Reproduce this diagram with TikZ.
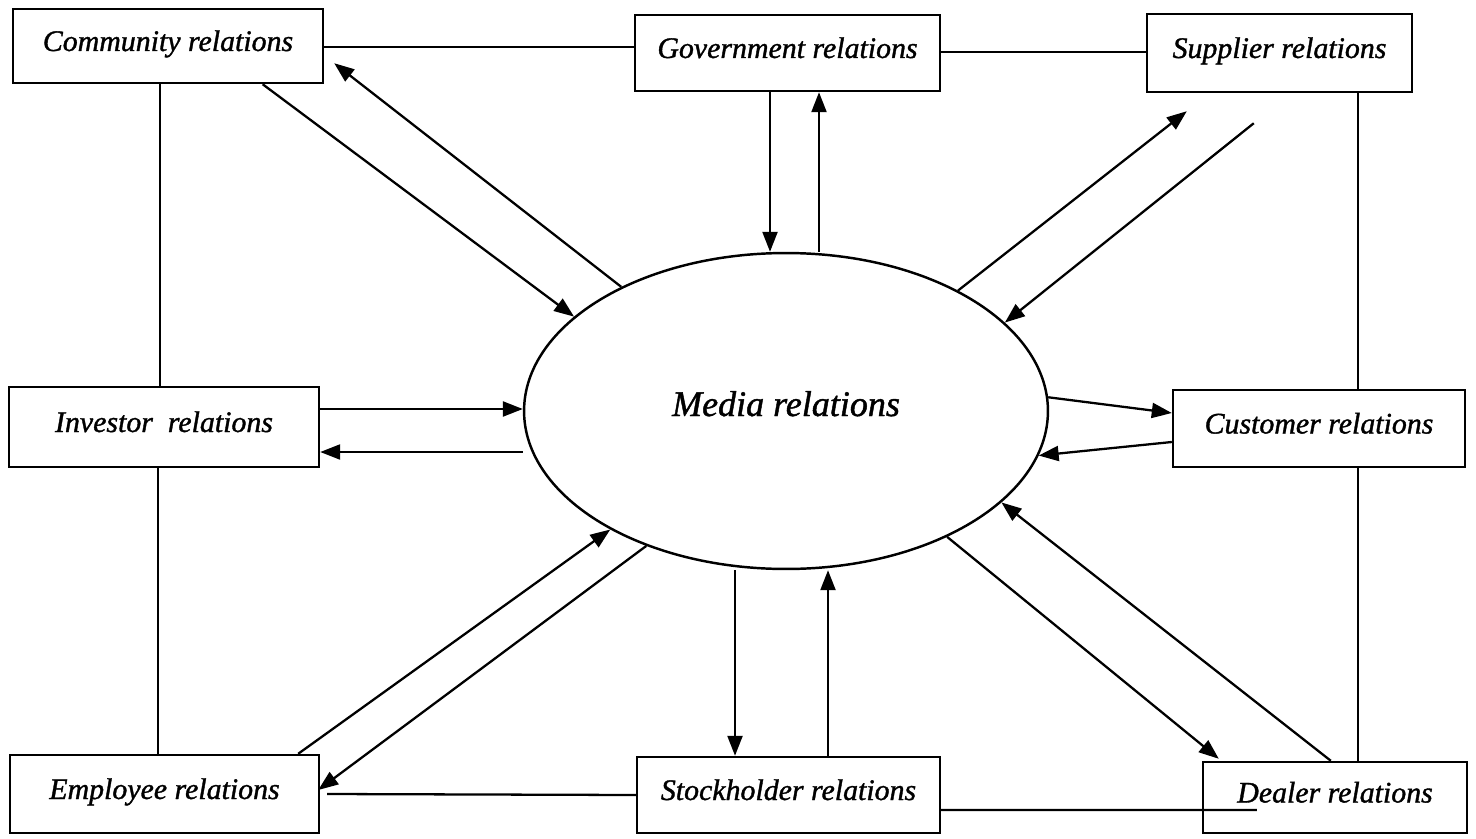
\documentclass[tikz,border=0pt]{standalone}
\usepackage{fontspec}
\setmainfont{Liberation Serif}[ItalicFeatures={FakeBold=1.2}]
\usetikzlibrary{arrows.meta,calc,shapes.geometric}
\tikzset{
  box/.style={draw, line width=1.4pt, rectangle, inner sep=0pt, font=\fontsize{17}{20}\selectfont\itshape, text height=0.42cm, text depth=0.22cm},
  media/.style={draw, line width=1.4pt, ellipse, inner sep=0pt, minimum width=10.48cm, minimum height=6.32cm, font=\fontsize{20.5}{24}\selectfont\itshape, text height=0.5cm, text depth=0.3cm},
  arr/.style={line width=1.3pt, -{Triangle[length=0.4cm,width=0.3cm]}},
  conn/.style={line width=1.3pt}
}
\begin{document}
\begin{tikzpicture}[x=0.02cm,y=-0.02cm]
\useasboundingbox (0,0) rectangle (1476,838);
% boxes
\node[box, minimum width=6.2cm, minimum height=1.48cm] (comm) at (168,46) {Community relations};
\node[box, minimum width=6.1cm, minimum height=1.52cm] (gov) at (787.5,53) {Government relations};
\node[box, minimum width=5.3cm, minimum height=1.56cm] (sup) at (1279.5,53) {Supplier relations};
\node[box, minimum width=6.2cm, minimum height=1.6cm] (inv) at (164,427) {Investor\ \ relations};
\node[box, minimum width=5.84cm, minimum height=1.54cm] (cust) at (1319,428.5) {Customer relations};
\node[box, minimum width=6.18cm, minimum height=1.56cm] (emp) at (164.5,794) {Employee relations};
\node[box, minimum width=6.06cm, minimum height=1.52cm] (stock) at (788.5,795) {Stockholder relations};
\node[box, minimum width=5.28cm, minimum height=1.42cm] (deal) at (1335,797.5) {Dealer relations};
% central ellipse
\node[media] (med) at (786,411) {Media relations};
% helper coordinates on the boxes
\coordinate (cg) at ($(comm.east)+(0,1)$);
\coordinate (gs) at ($(gov.east)+(0,-1)$);
\coordinate (ci) at ($(comm.south)+(-8,0)$);
\coordinate (ie) at ($(inv.south)+(-6,0)$);
\coordinate (sc) at ($(sup.south)+(78.5,0)$);
\coordinate (cd) at ($(cust.south)+(39,0)$);
\coordinate (ee) at ($(emp.east)+(7,0)$);
\coordinate (sd) at ($(stock.east)+(0,15)$);
\coordinate (dealin) at ($(deal.west)+(55,12.5)$);
\coordinate (gA) at ($(gov.south)+(-17.5,0)$);
\coordinate (gB) at ($(gov.south)+(31.5,0)$);
\coordinate (iA) at ($(inv.east)+(0,-18)$);
\coordinate (iB) at ($(inv.east)+(0,25)$);
\coordinate (sA) at ($(stock.north)+(-53.5,0)$);
\coordinate (sB) at ($(stock.north)+(39.5,0)$);
% outer frame lines
\draw[conn] (cg) -- (cg -| gov.west);
\draw[conn] (gs) -- (gs -| sup.west);
\draw[conn] (ci) -- (ci |- inv.north);
\draw[conn] (ie) -- (ie |- emp.north);
\draw[conn] (sc) -- (sc |- cust.north);
\draw[conn] (cd) -- (cd |- deal.north);
\draw[conn] (stock.west) -- (ee);
\draw[conn] (sd) -- (dealin);
% community
\draw[arr] ($(comm.south west)!0.803!(comm.south east)$) -- (med.156);
\draw[arr] (med.143) -- ($(comm.south east)+(10,-21)$);
% government
\draw[arr] (gA) -- (gA |- med.north);
\draw[arr] (gB |- med.north) -- (gB);
% supplier
\draw[arr] (med.35.6) -- ($(sup.south west)+(41,18)$);
\draw[arr] ($(sup.south west)+(108,30)$) -- (med.22.8);
% investor
\draw[arr] (iA) -- (iA -| med.west);
\draw[arr] (iB -| med.west) -- (iB);
% customer
\draw[arr] (med.3.5) -- ($(cust.west)+(0,-15.5)$);
\draw[arr] ($(cust.west)+(0,13.5)$) -- (med.-10);
% employee
\draw[arr] ($(emp.north east)+(-22,0)$) -- (med.214);
\draw[arr] (med.224) -- ($(emp.east)+(-2,-4)$);
% stockholder
\draw[arr] (sA |- med.south) -- (sA);
\draw[arr] (sB) -- (sB |- med.south);
% dealer
\draw[arr] (med.-38.8) -- ($(deal.north west)+(17,-2)$);
\draw[arr] ($(deal.north west)+(129,0)$) -- (med.-23);
\end{tikzpicture}
\end{document}
